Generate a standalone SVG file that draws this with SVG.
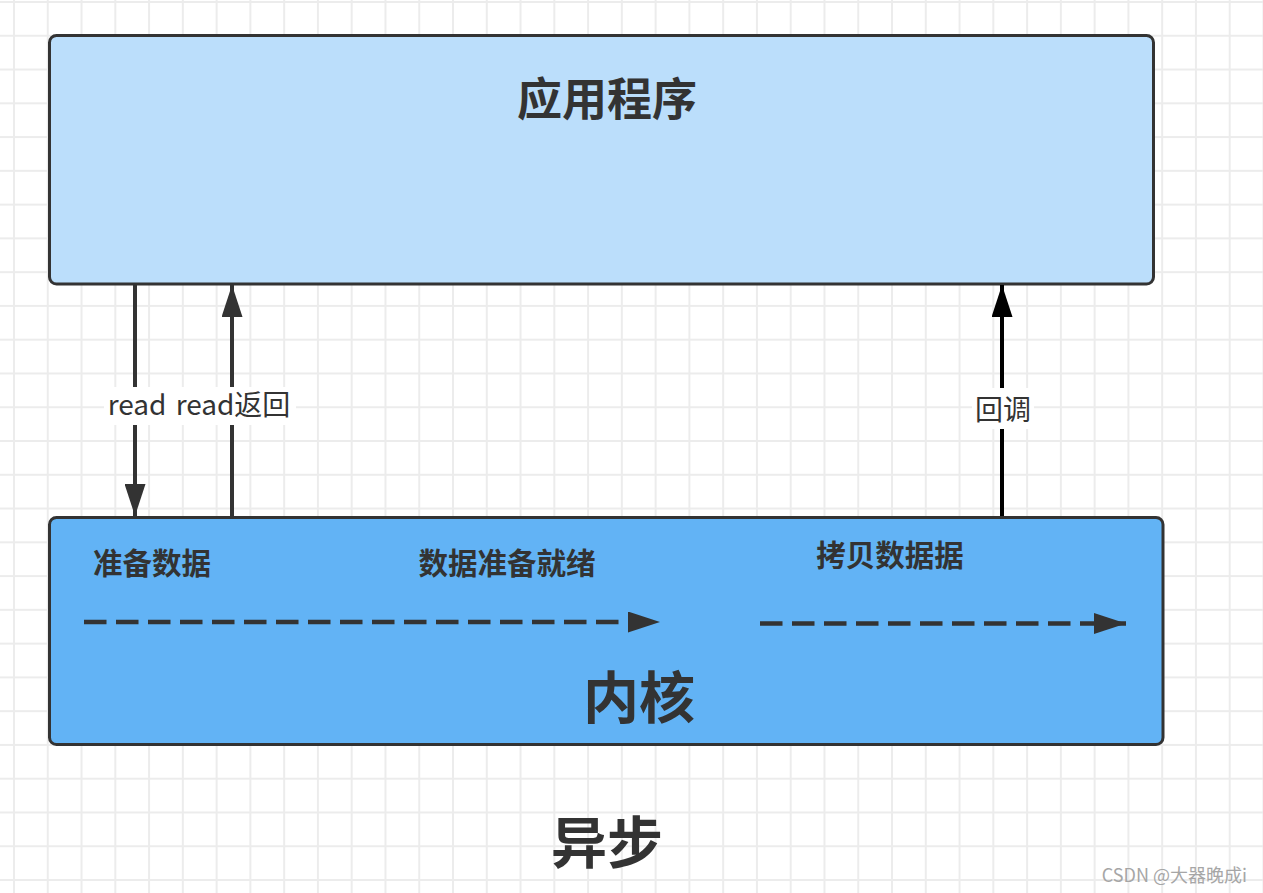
<svg xmlns="http://www.w3.org/2000/svg" width="1263" height="893" viewBox="0 0 1263 893">
  <defs>
    <pattern id="grid" patternUnits="userSpaceOnUse" x="13" y="1" width="33.77" height="33.77">
      <rect x="0" y="0" width="2" height="33.77" fill="#ececec"/>
      <rect x="0" y="0" width="33.77" height="2" fill="#ececec"/>
    </pattern>
    <marker id="ah" viewBox="0 0 32 21" refX="32" refY="10.5" markerWidth="32" markerHeight="21" markerUnits="userSpaceOnUse" orient="auto">
      <path d="M0,0 L32,10.5 L0,21 Z" fill="#333333"/>
    </marker>
    <marker id="ahk" viewBox="0 0 32 21" refX="32" refY="10.5" markerWidth="32" markerHeight="21" markerUnits="userSpaceOnUse" orient="auto">
      <path d="M0,0 L32,10.5 L0,21 Z" fill="#000000"/>
    </marker>
  </defs>
  <style>
    .box { stroke: #333333; stroke-width: 3; }
    .title { font-family: "Noto Sans CJK SC", "Noto Sans", sans-serif; font-weight: bold; fill: #333333; text-anchor: middle; }
    .lbl { font-family: "Noto Sans CJK SC", "Noto Sans", sans-serif; font-size: 28px; fill: #333333; text-anchor: middle; }
    .klbl { font-family: "Noto Sans CJK SC", "Noto Sans", sans-serif; font-weight: bold; font-size: 29.5px; fill: #333333; text-anchor: middle; }
    .conn { stroke: #333333; stroke-width: 4; fill: none; }
    .dash { stroke: #333333; stroke-width: 4.5; fill: none; stroke-dasharray: 22.5 9.5; }
  </style>
  <rect x="0" y="0" width="1263" height="893" fill="#ffffff"/>
  <rect x="0" y="0" width="1263" height="893" fill="url(#grid)"/>

  <g id="app">
    <rect class="box" x="49.5" y="35.5" width="1104" height="248.5" rx="7" fill="#bbdefb"/>
    <text class="title" x="607" y="116" font-size="45px">应用程序</text>
  </g>

  <g id="kernel">
    <rect class="box" x="49.5" y="517.5" width="1113.5" height="227" rx="7" fill="#62b3f5"/>
    <text class="title" x="639" y="718" font-size="56px">内核</text>
    <text class="klbl" x="152" y="574">准备数据</text>
    <text class="klbl" x="507" y="574">数据准备就绪</text>
    <text class="klbl" x="890" y="566">拷贝数据据</text>
  </g>

  <g id="connectors">
    <line class="conn" x1="135" y1="285" x2="135" y2="516" marker-end="url(#ah)"/>
    <line class="conn" x1="232" y1="516" x2="232" y2="285" marker-end="url(#ah)"/>
    <line x1="1002" y1="516" x2="1002" y2="285" stroke="#000000" stroke-width="4" marker-end="url(#ahk)"/>
    <line class="dash" x1="84" y1="622" x2="660" y2="622" marker-end="url(#ah)"/>
    <line class="dash" x1="760" y1="623.5" x2="1126" y2="623.5" marker-end="url(#ah)"/>
  </g>

  <g id="labels">
    <rect x="104" y="387" width="192" height="38" fill="#ffffff"/>
    <text class="lbl" x="137" y="415">read</text>
    <text class="lbl" x="233" y="415">read返回</text>
    <rect x="972" y="388" width="62" height="41" fill="#ffffff"/>
    <text class="lbl" x="1003" y="420">回调</text>
  </g>

  <g id="caption">
    <text class="title" x="607" y="863" font-size="56px">异步</text>
  </g>

  <text x="1247" y="882" font-family="Noto Sans CJK SC, Liberation Sans, sans-serif" font-size="18px" fill="#a6a6a6" text-anchor="end">CSDN @大器晚成i</text>
</svg>
